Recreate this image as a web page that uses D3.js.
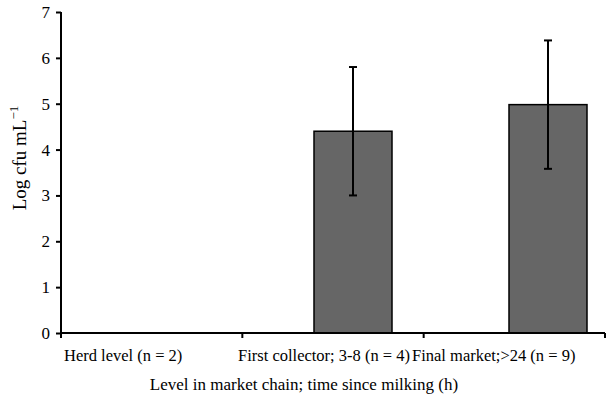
<!DOCTYPE html>
<html>
<head>
<meta charset="utf-8">
<script src="https://cdn.jsdelivr.net/npm/d3@7"></script>
<style>
  body { margin: 0; background: #fff; }
  svg text { font-family: "Liberation Serif", "Times New Roman", "DejaVu Serif", serif; fill: #000; }
</style>
</head>
<body>
<div id="chart"></div>
<script>
const categories = ["Herd level", "First collector", "Final market"];
const categoryLabels = ["Herd level  (n = 2)", "First collector; 3-8 (n = 4)", "Final market;>24 (n = 9)"];
const means = [0, 4.4, 4.98];
const errors = [0, 1.4, 1.4];
const yTicks = [0, 1, 2, 3, 4, 5, 6, 7];

const drawChart = () => {
  const width = 608;
  const height = 407;
  const margin = {left: 61, right: 3, top: 12, bottom: 74};
  const plotW = width - margin.left - margin.right;
  const plotH = height - margin.top - margin.bottom;

  const svg = d3.select("#chart")
      .append("svg")
      .attr("width", width)
      .attr("height", height);

  const g = svg.append("g")
      .attr("transform", `translate(${margin.left},${margin.top})`);

  // category bands that hold the axis ticks
  const xAxisScale = d3.scaleBand()
      .domain(categories)
      .range([0, plotW]);

  // bars sit off the band centres in the original figure
  const xBar = d3.scaleBand()
      .domain(categories)
      .range([58, 526])
      .paddingInner(0.6);

  const xLabel = d3.scalePoint()
      .domain(categories)
      .range([3, 351]);

  const y = d3.scaleLinear()
      .domain([0, 7])
      .range([plotH, 0]);

  const data = categories.map((c, i) => ({cat: c, mean: means[i], err: errors[i]}));

  // bars
  g.selectAll("rect.bar").data(data.filter(d => d.mean > 0)).enter()
    .append("rect")
      .attr("class", "bar")
      .attr("x", d => xBar(d.cat))
      .attr("y", d => y(d.mean))
      .attr("width", xBar.bandwidth())
      .attr("height", d => y(0) - y(d.mean))
      .attr("fill", "#666666")
      .attr("stroke", "#000")
      .attr("stroke-width", 1.5);

  // error bars
  const eb = g.selectAll("g.err").data(data.filter(d => d.err > 0)).enter()
    .append("g")
      .attr("class", "err")
      .attr("stroke", "#000")
      .attr("stroke-width", 2);
  const cx = d => xBar(d.cat) + xBar.bandwidth() / 2;
  eb.append("line")
      .attr("x1", cx).attr("x2", cx)
      .attr("y1", d => y(d.mean + d.err))
      .attr("y2", d => y(d.mean - d.err));
  eb.append("line")
      .attr("x1", d => cx(d) - 4).attr("x2", d => cx(d) + 4)
      .attr("y1", d => y(d.mean + d.err)).attr("y2", d => y(d.mean + d.err));
  eb.append("line")
      .attr("x1", d => cx(d) - 4).attr("x2", d => cx(d) + 4)
      .attr("y1", d => y(d.mean - d.err)).attr("y2", d => y(d.mean - d.err));

  // y axis
  const yAxis = g.append("g")
      .call(d3.axisLeft(y).tickValues(yTicks).tickFormat(d3.format("d"))
        .tickSize(5).tickPadding(6).tickSizeOuter(0));
  yAxis.select(".domain").attr("stroke-width", 2).attr("d", `M0,${plotH + 5}V0`);
  yAxis.selectAll(".tick line").attr("stroke-width", 2);
  yAxis.selectAll(".tick text").style("font-size", "17px");

  // x axis: line with tick marks at band edges
  const xAxis = g.append("g").attr("transform", `translate(0,${plotH})`);
  xAxis.append("line")
      .attr("x1", 0).attr("x2", plotW)
      .attr("stroke", "#000").attr("stroke-width", 2);
  const edges = categories.slice(1).map(c => xAxisScale(c)).concat([xAxisScale.range()[1]]);
  xAxis.selectAll("line.tick").data(edges).enter()
    .append("line")
      .attr("class", "tick")
      .attr("x1", d => d).attr("x2", d => d)
      .attr("y1", 0).attr("y2", 5)
      .attr("stroke", "#000").attr("stroke-width", 2);

  xAxis.selectAll("text.cat").data(categories).enter()
    .append("text")
      .attr("class", "cat")
      .attr("x", d => xLabel(d))
      .attr("y", 28)
      .attr("font-size", "16.5px")
      .text((d, i) => categoryLabels[i]);

  // axis titles
  svg.append("text")
      .attr("x", 304)
      .attr("y", 390)
      .attr("text-anchor", "middle")
      .attr("font-size", "17px")
      .text("Level in market chain; time since milking (h)");

  const yt = svg.append("text")
      .attr("transform", "translate(26,158) rotate(-90)")
      .attr("text-anchor", "middle")
      .attr("font-size", "19px");
  yt.append("tspan").text("Log cfu mL");
  yt.append("tspan").attr("dy", -8).attr("font-size", "13px").text("\u22121");
};

window.onload = drawChart;
</script>
</body>
</html>
